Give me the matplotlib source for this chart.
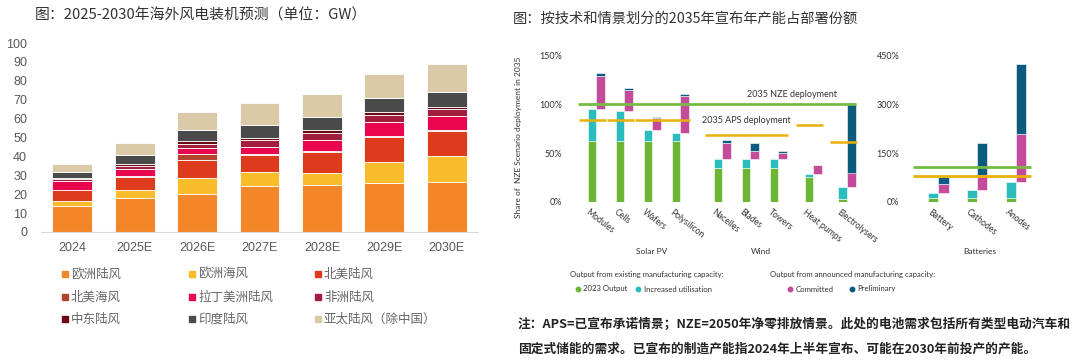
import matplotlib.pyplot as plt
import numpy as np
from matplotlib.patches import Rectangle
from matplotlib.lines import Line2D
from matplotlib.transforms import blended_transform_factory

plt.rcParams['font.family'] = ['Noto Sans CJK SC', 'DejaVu Sans']

# ---- left chart: overseas wind installations (GW) ----
years = ["2024", "2025E", "2026E", "2027E", "2028E", "2029E", "2030E"]
regions = ["欧洲陆风", "欧洲海风", "北美陆风", "北美海风", "拉丁美洲陆风",
           "非洲陆风", "中东陆风", "印度陆风", "亚太陆风（除中国）"]
eu_on = [14.0, 18.1, 20.2, 24.1, 25.1, 26.0, 26.5]
eu_off = [2.5, 4.2, 8.4, 7.5, 6.2, 10.9, 13.7]
na_on = [5.5, 6.7, 9.5, 9.2, 11.2, 13.4, 13.2]
na_off = [0.2, 0.5, 3.2, 0.7, 0.4, 0.3, 0.4]
latam_on = [4.7, 3.9, 3.3, 3.5, 5.8, 7.6, 7.7]
africa_on = [1.3, 1.4, 2.0, 3.7, 3.5, 3.5, 3.5]
mideast_on = [0.6, 1.2, 1.4, 1.2, 1.6, 1.6, 1.4]
india_on = [3.2, 4.8, 6.0, 6.9, 7.2, 7.4, 7.6]
apac_on = [4.2, 6.1, 9.3, 11.7, 12.1, 12.8, 14.8]
region_colors = ["#F4862A", "#FBBC2C", "#DD3B1C", "#B5442E", "#E8074F",
                 "#A21E3C", "#6B0A12", "#4A4A4A", "#DBCAA8"]

# ---- right chart: announced capacity vs 2035 deployment (%) ----
techs = ["Modules", "Cells", "Wafers", "Polysilicon", "Nacelles", "Blades",
         "Towers", "Heat pumps", "Electrolysers"]
out2023 = [62, 62, 62, 62, 35, 35, 35, 25.5, 2.5]
utilisation = [33.5, 31, 12, 9, 8.5, 8.5, 8.5, 2.5, 13]
committed = [34, 21.5, 11.5, 38, 17, 8.5, 7, 9.5, 14.5]
preliminary = [3, 2, 1.5, 1.5, 2.5, 8, 1.5, 0, 71]
aps_groups = [(0, 0), (1, 1), (2, 3), (4, 6), (7, 7), (8, 8)]
aps_vals = [84, 84, 84, 69, 78.5, 61]
nze_val = 100

bat_techs = ["Battery", "Cathodes", "Anodes"]
bat_out2023 = [10, 10, 10]
bat_utilisation = [15.5, 25, 51.5]
bat_committed = [28, 48, 148]
bat_preliminary = [23.5, 98, 213.5]
bat_nze = 106
bat_aps = 80

c_out, c_util, c_comm, c_prel = "#6DB534", "#2BBDBD", "#C44B9A", "#0B5B7E"
c_nze, c_aps = "#76BC43", "#E9B10C"

W, H = 1080, 363
fig = plt.figure(figsize=(W / 100, H / 100), dpi=100)


def fx(px):
    return px / W


def fy(py):
    return 1 - py / H


# ================= left chart =================
ax0 = fig.add_axes([fx(41), fy(232), fx(437), 189 / H])
series = [eu_on, eu_off, na_on, na_off, latam_on, africa_on, mideast_on, india_on, apac_on]
x = np.arange(len(years))
bottom = np.zeros(len(years))
for vals, col in zip(series, region_colors):
    ax0.bar(x, vals, 0.64, bottom=bottom, color=col, edgecolor="white", linewidth=0.6)
    bottom += np.array(vals)
ax0.set_ylim(0, 100)
ax0.set_xlim(-0.5, 6.5)
ax0.set_yticks(range(0, 101, 10))
ax0.set_xticks(x, years)
for s in ["top", "right", "left"]:
    ax0.spines[s].set_visible(False)
ax0.spines["bottom"].set_color("#D9D9D9")
ax0.tick_params(length=0, labelsize=9, colors="#595959")
ax0.tick_params(axis="y", pad=10)
ax0.tick_params(axis="x", pad=7)
for lab in ax0.get_xticklabels() + ax0.get_yticklabels():
    lab.set_family(["Liberation Sans", "Noto Sans CJK SC"])

fig.text(fx(35), fy(15), "图：2025-2030年海外风电装机预测（单位：GW）",
         fontsize=10.7, color="#333333", va="center")

# legend (row-major, 3 columns)
col_x = [62, 189, 315]
row_y = [274, 297, 319]
for i, (name, col) in enumerate(zip(regions, region_colors)):
    cx, cy = col_x[i % 3], row_y[i // 3]
    fig.patches.append(Rectangle((fx(cx), fy(cy + 3)), fx(6), 6 / H, color=col,
                                 transform=fig.transFigure, figure=fig))
    fig.text(fx(cx + 9), fy(cy), name, fontsize=9, color="#666666", va="center")

# ================= right chart =================
iea_font = ["Lato", "DejaVu Sans"]
tc = "#333333"
pos = [0, 1, 2, 3, 4.5, 5.5, 6.5, 7.75, 8.95]
bpos = [0, 1, 2]

fig.text(fx(513), fy(19), "图：按技术和情景划分的2035年宣布年产能占部署份额",
         fontsize=10.3, color="#333333", va="center")

ax1 = fig.add_axes([fx(568), fy(201.7), fx(294), 146 / H])
ax2 = fig.add_axes([fx(905), fy(201.7), fx(140), 146 / H])


def draw_panel(ax, p, o, u, c, pr, w):
    p = np.array(p, dtype=float)
    o, u, c, pr = (np.array(v, dtype=float) for v in (o, u, c, pr))
    ax.bar(p, o, w, align="edge", color=c_out, edgecolor="white", linewidth=0.4)
    ax.bar(p, u, w, bottom=o, align="edge", color=c_util, edgecolor="white", linewidth=0.4)
    ax.bar(p + w, c, w, bottom=o + u, align="edge", color=c_comm, edgecolor="white", linewidth=0.4)
    ax.bar(p + w, pr, w, bottom=o + u + c, align="edge", color=c_prel, edgecolor="white", linewidth=0.4)
    for s in ax.spines.values():
        s.set_visible(False)
    ax.tick_params(length=0, labelsize=6.5, colors=tc, pad=4)
    ax.tick_params(axis="x", labelbottom=False)
    for lab in ax.get_yticklabels():
        lab.set_family(iea_font)


w1 = 0.31
draw_panel(ax1, pos, out2023, utilisation, committed, preliminary, w1)
ax1.set_xlim(-0.70, 9.8)
ax1.set_ylim(0, 150)
ax1.set_yticks([0, 50, 100, 150], ["0%", "50%", "100%", "150%"])
ax1.hlines(nze_val, pos[0] - 0.35, pos[-1] + 2 * w1, color=c_nze, lw=2.0, zorder=3)
for (a, b), v in zip(aps_groups, aps_vals):
    ax1.hlines(v, pos[a] - 0.3, pos[b] + 2 * w1 + 0.05, color=c_aps, lw=1.8, zorder=3)
ax1.text(8.89, 110.5, "2035 NZE deployment", ha="right", va="center",
         fontsize=6.5, color=tc, family=iea_font)
ax1.text(4.07, 83, "2035 APS deployment", ha="left", va="center",
         fontsize=6.5, color=tc, family=iea_font)

w2 = 0.26
draw_panel(ax2, bpos, bat_out2023, bat_utilisation, bat_committed, bat_preliminary, w2)
ax2.set_xlim(-0.6, 3.0)
ax2.set_ylim(0, 450)
ax2.set_yticks([0, 150, 300, 450], ["0%", "150%", "300%", "450%"])
ax2.hlines(bat_nze, bpos[0] - 0.4, bpos[-1] + 2 * w2 + 0.13, color=c_nze, lw=2.0, zorder=3)
ax2.hlines(bat_aps, bpos[0] - 0.4, bpos[-1] + 2 * w2 + 0.13, color=c_aps, lw=2.0, zorder=3)

for ax, p, names in [(ax1, pos, techs), (ax2, bpos, bat_techs)]:
    tr = blended_transform_factory(ax.transData, ax.transAxes)
    for xi, name in zip(p, names):
        ax.text(xi + 0.08, -0.04, name, transform=tr, rotation=-38,
                rotation_mode="anchor", ha="left", va="top",
                fontsize=6.2, color=tc, family=iea_font)

tr1 = blended_transform_factory(ax1.transData, ax1.transAxes)
ax1.text(2.3, -0.342, "Solar PV", transform=tr1, ha="center", va="center",
         fontsize=6, color=tc, family=iea_font)
ax1.text(6.2, -0.342, "Wind", transform=tr1, ha="center", va="center",
         fontsize=6, color=tc, family=iea_font)
tr2 = blended_transform_factory(ax2.transData, ax2.transAxes)
ax2.text(1.32, -0.342, "Batteries", transform=tr2, ha="center", va="center",
         fontsize=6, color=tc, family=iea_font)

fig.text(fx(518), fy(137), "Share of  NZE Scenario deployment in 2035", rotation=90,
         ha="center", va="center", fontsize=6, color=tc, family=iea_font)

# IEA legend
fig.text(fx(570), fy(274), "Output from existing manufacturing capacity:",
         fontsize=5.6, color=tc, va="center", family=iea_font)
fig.text(fx(770), fy(274), "Output from announced manufacturing capacity:",
         fontsize=5.6, color=tc, va="center", family=iea_font)
leg_items = [("2023 Output", c_out, 577.7), ("Increased utilisation", c_util, 638),
             ("Committed", c_comm, 790), ("Preliminary", c_prel, 851.7)]
for name, col, lx in leg_items:
    fig.add_artist(Line2D([fx(lx)], [fy(289)], marker="o", markersize=3.2,
                          color=col, linestyle="none", transform=fig.transFigure))
    fig.text(fx(lx + 5.5), fy(289), name, fontsize=5.6, color=tc, va="center",
             family=iea_font)

# note
fig.text(fx(518), fy(324), "注：APS=已宣布承诺情景；NZE=2050年净零排放情景。此处的电池需求包括所有类型电动汽车和",
         fontsize=9.15, fontweight="bold", color="#222222", va="center")
fig.text(fx(518), fy(349), "固定式储能的需求。已宣布的制造产能指2024年上半年宣布、可能在2030年前投产的产能。",
         fontsize=9.15, fontweight="bold", color="#222222", va="center")

fig.savefig("out.png", dpi=100, facecolor="white")
